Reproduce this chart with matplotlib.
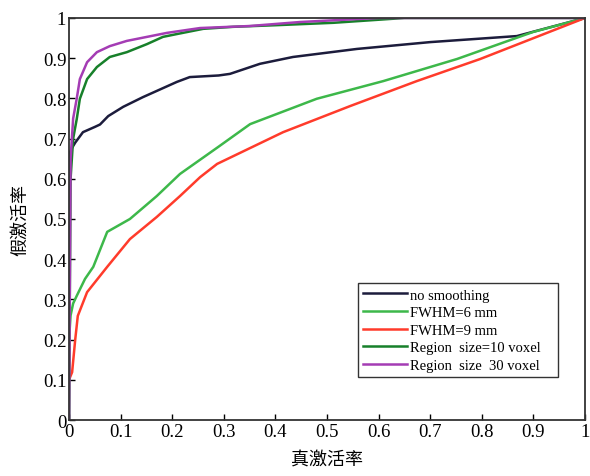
import matplotlib
matplotlib.use('Agg')
import matplotlib.pyplot as plt
import numpy as np

# ROC curves (true activation rate vs false activation rate)
labels = ['no smoothing', 'FWHM=6 mm', 'FWHM=9 mm',
          'Region  size=10 voxel', 'Region  size  30 voxel']
colors = ['#1c1c3c', '#3db84a', '#ff3b2b', '#17802a', '#a43cb4']

x_nosmooth = [0, 0, 0.005, 0.012, 0.027, 0.05, 0.06, 0.076, 0.105, 0.143, 0.209,
              0.234, 0.29, 0.312, 0.37, 0.434, 0.558, 0.7, 0.868, 1.0]
y_nosmooth = [0, 0.66, 0.675, 0.69, 0.716, 0.729, 0.735, 0.756, 0.779, 0.803, 0.841,
              0.853, 0.857, 0.861, 0.886, 0.903, 0.923, 0.94, 0.955, 1.0]

x_fwhm6 = [0, 0.003, 0.008, 0.015, 0.031, 0.047, 0.074, 0.118, 0.17, 0.215,
           0.29, 0.351, 0.48, 0.609, 0.752, 0.899, 1.0]
y_fwhm6 = [0.2, 0.26, 0.29, 0.309, 0.351, 0.381, 0.468, 0.5, 0.557, 0.612,
           0.68, 0.736, 0.799, 0.843, 0.898, 0.965, 1.0]

x_fwhm9 = [0, 0.006, 0.012, 0.017, 0.035, 0.074, 0.118, 0.17, 0.215, 0.254,
           0.287, 0.415, 0.545, 0.674, 0.797, 1.0]
y_fwhm9 = [0.1, 0.119, 0.2, 0.259, 0.318, 0.381, 0.45, 0.505, 0.557, 0.604,
           0.637, 0.716, 0.781, 0.843, 0.898, 1.0]

x_reg10 = [0, 0.003, 0.008, 0.015, 0.021, 0.035, 0.054, 0.079, 0.112, 0.151,
           0.182, 0.209, 0.26, 0.318, 0.4, 0.512, 0.65, 1.0]
y_reg10 = [0, 0.6, 0.7, 0.749, 0.799, 0.848, 0.878, 0.903, 0.915, 0.935,
           0.953, 0.96, 0.973, 0.978, 0.982, 0.988, 1.0, 1.0]

x_reg30 = [0, 0.003, 0.008, 0.015, 0.021, 0.035, 0.054, 0.079, 0.112, 0.151,
           0.19, 0.254, 0.35, 0.448, 0.6, 1.0]
y_reg30 = [0, 0.65, 0.75, 0.80, 0.848, 0.89, 0.915, 0.93, 0.943, 0.953,
           0.963, 0.975, 0.98, 0.99, 1.0, 1.0]

ticks = np.round(np.arange(0, 1.01, 0.1), 1)
tick_labels = ['0', '0.1', '0.2', '0.3', '0.4', '0.5', '0.6', '0.7', '0.8', '0.9', '1']

plt.rcParams['font.family'] = ['Liberation Serif', 'Noto Sans CJK SC', 'DejaVu Sans']

fig = plt.figure(figsize=(5.9, 4.77), dpi=100)
ax = fig.add_axes([0.117, 0.1174, 0.8745, 0.8428])

series = [(x_nosmooth, y_nosmooth), (x_fwhm6, y_fwhm6), (x_fwhm9, y_fwhm9),
          (x_reg10, y_reg10), (x_reg30, y_reg30)]
for (xs, ys), lab, c in zip(series, labels, colors):
    ax.plot(xs, ys, color=c, linewidth=1.8, label=lab)

ax.set_xlim(0, 1)
ax.set_ylim(0, 1)
ax.set_xticks(ticks)
ax.set_xticklabels(tick_labels)
ax.set_yticks(ticks)
ax.set_yticklabels(tick_labels)
ax.tick_params(direction='in', length=4, labelsize=13.5, pad=2, width=1)
for sp in ax.spines.values():
    sp.set_linewidth(1.3)
    sp.set_color('#333333')

ax.set_xlabel('真激活率', family=['Noto Sans CJK SC'], fontsize=13, labelpad=8)
ax.set_ylabel('假激活率', family=['Noto Sans CJK SC'], fontsize=13, labelpad=10)

leg = ax.legend(loc='lower left', bbox_to_anchor=(0.56, 0.107, 0.388, 0.262),
                mode='expand', fontsize=10.5, handlelength=3, handletextpad=0.2,
                labelspacing=0.3, borderaxespad=0, fancybox=False,
                framealpha=1, edgecolor='#333333', borderpad=0.35)
leg.get_frame().set_linewidth(1.0)

fig.savefig('out.png', dpi=100, facecolor='white')
